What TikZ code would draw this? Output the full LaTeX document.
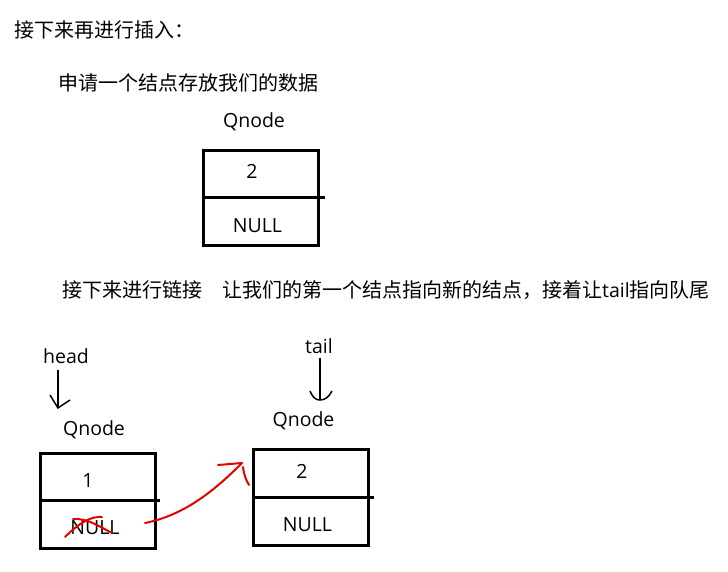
\documentclass[tikz,border=0pt]{standalone}
\usepackage{fontspec}
\setmainfont{Open Sans}
\newfontfamily\cjk{Noto Sans CJK SC}
\begin{document}
\begin{tikzpicture}[x=1pt,y=-1pt,
  txt/.style={inner sep=0pt,anchor=base,font=\fontsize{19.5}{23}\selectfont},
  ltxt/.style={inner sep=0pt,anchor=base west,font=\fontsize{20}{23}\selectfont\cjk},
  qbox/.style={draw,line width=3pt,minimum width=115pt,minimum height=95pt,inner sep=0pt},
  divider/.style={line width=3pt},
  ptr/.style={line width=1.5pt},
  redpen/.style={draw=red!90!black,line width=2pt,line cap=round}]
\useasboundingbox (0,0) rectangle (728,571);
\fill[white] (0,0) rectangle (728,571);

% text lines
\node[ltxt] (l1) at (14,37) {接下来再进行插入：};
\node[ltxt] (l2) at (58,90) {申请一个结点存放我们的数据};
\node[ltxt] (l3a) at (62,297) {接下来进行链接};
\node[ltxt] (l3b) at (222,297) {让我们的第一个结点指向新的结点，接着让{\fontspec{Open Sans}\fontsize{19.5}{23}\selectfont tail}指向队尾};

% first box
\node[txt] (qn1) at (254,127) {Qnode};
\node[qbox] (b1) at (260.5,197.5) {};
\draw[divider] (b1.west) -- ([xshift=5pt]b1.east);
\node[txt] (v1) at (252,178) {2};
\node[txt] (n1) at (257.5,232) {NULL};

% head
\node[txt] (head) at (66,363) {head};
\coordinate (hd) at (58,408);
\draw[ptr] (58,370) -- (hd);
\draw[ptr] (50,395) -- (hd) -- (70,400);

\node[txt] (qn2) at (94,435) {Qnode};
\node[qbox] (b2) at (98,500.5) {};
\draw[divider] (b2.west) -- ([xshift=3pt]b2.east);
\node[txt] (v2) at (88,487) {1};
\node[txt] (n2) at (95,534) {NULL};

% tail
\node[txt] (tail) at (319,353) {tail};
\coordinate (td) at (320,400);
\draw[ptr] (320,358) -- (td);
\draw[ptr] (310,391) .. controls (313,398) and (316,400) .. (td) .. controls (325,400) and (329,397) .. (332,391);

\node[txt] (qn3) at (303.5,426) {Qnode};
\node[qbox,minimum height=96pt] (b3) at (311,497) {};
\draw[divider] (b3.west) -- ([xshift=4pt]b3.east);
\node[txt] (v3) at (302,478) {2};
\node[txt] (n3) at (307.5,531) {NULL};

% red cross on NULL
\draw[redpen] (65,537) .. controls (80,522) and (92,516) .. (102,517);
\draw[redpen] (73,519) .. controls (88,518) and (100,527) .. (112,533);

% red link arrow
\coordinate (rs) at (145,523);
\coordinate (re) at (242,463);
\draw[redpen] (rs) .. controls (185,515) and (215,490) .. (re);
\draw[redpen] (218,465) -- (re);
\draw[redpen] (243,467) .. controls (244,475) and (246,480) .. (249,485);
\end{tikzpicture}
\end{document}
